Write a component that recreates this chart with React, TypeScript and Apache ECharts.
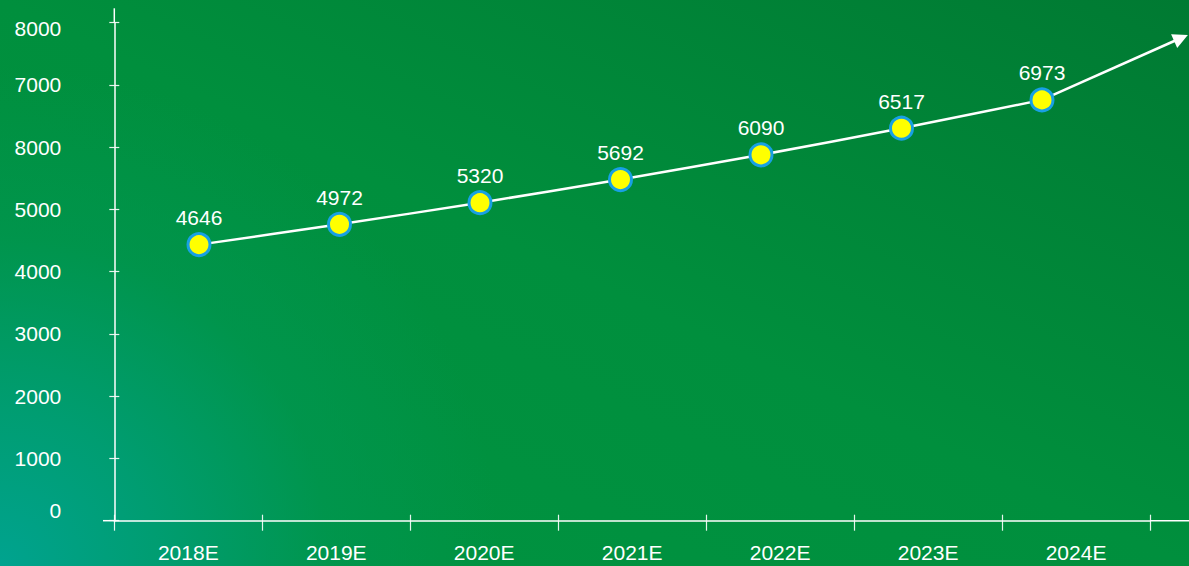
import React, { useEffect, useRef } from "react";
import * as echarts from "echarts";

const categories = ["2018E", "2019E", "2020E", "2021E", "2022E", "2023E", "2024E"];
const values = [4646, 4972, 5320, 5692, 6090, 6517, 6973];
const yTickLabels = ["0", "1000", "2000", "3000", "4000", "5000", "8000", "7000", "8000"];

export default function App() {
  const ref = useRef<HTMLDivElement>(null);
  useEffect(() => {
    const chart = echarts.init(ref.current!, null, { renderer: "svg" });
    const font = "'Liberation Sans', Arial, sans-serif";
    const white = "#ffffff";
    const tickStyle = { color: "rgba(255,255,255,0.9)", width: 1.2 };
    const lab = { fontSize: 21, color: white, fontFamily: font };
    chart.setOption({
      animation: false,
      backgroundColor: "transparent",
      textStyle: { fontFamily: font },
      grid: [
        { left: 114.3, right: 39, top: 22.7, bottom: 45.3 },
        { left: 199, right: 147, top: 36, bottom: 32.4 },
      ],
      xAxis: [
        {
          type: "category",
          gridIndex: 0,
          data: categories,
          boundaryGap: true,
          position: "bottom",
          axisLine: { lineStyle: { color: white, width: 1.5 } },
          axisTick: { show: true, length: 10, lineStyle: tickStyle },
          axisLabel: { ...lab, margin: 21, interval: 0 },
        },
        {
          type: "category",
          gridIndex: 0,
          data: categories,
          boundaryGap: true,
          position: "bottom",
          axisLine: { show: false },
          axisTick: { show: true, inside: true, length: 6, lineStyle: tickStyle },
          axisLabel: { show: false },
        },
        {
          type: "category",
          gridIndex: 1,
          data: categories,
          boundaryGap: false,
          show: false,
        },
      ],
      yAxis: [
        {
          type: "value",
          gridIndex: 0,
          min: 0,
          max: 8000,
          interval: 1000,
          position: "left",
          splitLine: { show: false },
          axisLine: { show: true, lineStyle: { color: white, width: 1.5 } },
          axisTick: { show: true, length: 5, lineStyle: tickStyle },
          axisLabel: {
            ...lab,
            margin: 53,
            formatter: (v: number) => {
              const i = Math.round(v / 1000);
              const t = yTickLabels[i] ?? "";
              if (i === 0) return `{lo|${t}}`;
              if (i === 8) return `{hi|${t}}`;
              return `{n|${t}}`;
            },
            rich: {
              n: { ...lab },
              lo: { ...lab, padding: [0, 0, 20, 0] },
              hi: { ...lab, padding: [12, 0, 0, 0] },
            },
          },
        },
        {
          type: "value",
          gridIndex: 0,
          min: 0,
          max: 8000,
          interval: 1000,
          position: "left",
          splitLine: { show: false },
          axisLine: { show: false },
          axisTick: { show: true, inside: true, length: 5, lineStyle: tickStyle },
          axisLabel: { show: false },
        },
        {
          type: "value",
          gridIndex: 1,
          min: 0,
          max: 8000,
          show: false,
          splitLine: { show: false },
        },
      ],
      graphic: [
        { type: "line", shape: { x1: 103, y1: 520.7, x2: 114.3, y2: 520.7 }, style: { stroke: white, lineWidth: 1.5 } },
        { type: "line", shape: { x1: 1150, y1: 520.7, x2: 1189, y2: 520.7 }, style: { stroke: white, lineWidth: 1.5 } },
        { type: "line", shape: { x1: 114.3, y1: 8.3, x2: 114.3, y2: 22.7 }, style: { stroke: white, lineWidth: 1.5 } },
      ],
      series: [
        {
          type: "line",
          xAxisIndex: 2,
          yAxisIndex: 2,
          data: values,
          clip: false,
          smooth: 0.2,
          z: 3,
          symbol: "circle",
          symbolSize: 22,
          lineStyle: { color: white, width: 2.5 },
          itemStyle: { color: "#ffff00", borderColor: "#18a0e4", borderWidth: 3 },
          label: { show: true, position: "top", distance: 4, ...lab },
          markLine: {
            silent: true,
            z: 1,
            symbol: ["none", "triangle"],
            symbolSize: 15,
            label: { show: false },
            lineStyle: { color: white, width: 2.5, type: "solid" },
            data: [[{ coord: [categories[6], values[6]] }, { x: 1181, y: 38 }]],
          },
        },
      ],
    });
    return () => chart.dispose();
  }, []);
  return (
    <div
      ref={ref}
      style={{
        position: "absolute",
        left: 0,
        top: 0,
        width: 1189,
        height: 566,
        background:
          "radial-gradient(circle at 0% 100%, rgba(0,163,143,1) 0px, rgba(0,158,118,0.9) 160px, rgba(0,152,88,0.5) 330px, rgba(0,148,70,0) 500px), linear-gradient(to top right, #009442 0%, #008f3d 50%, #007a32 100%)",
      }}
    />
  );
}
